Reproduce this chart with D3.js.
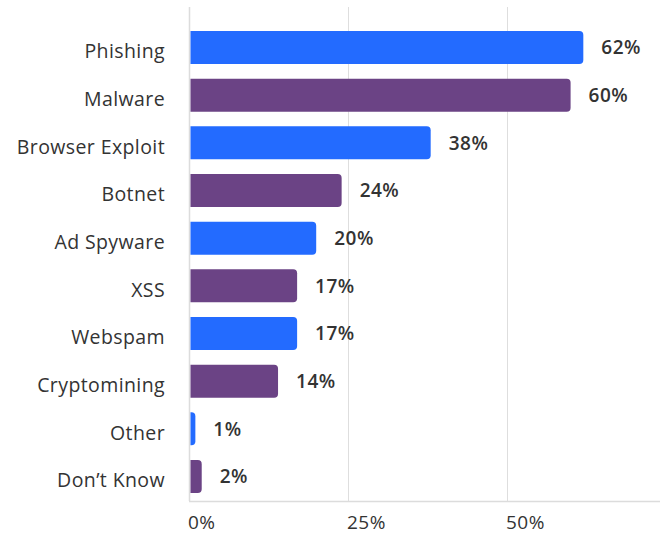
<!DOCTYPE html>
<html>
<head>
<meta charset="utf-8">
<script src="https://cdn.jsdelivr.net/npm/d3@7"></script>
<style>
  html, body { margin: 0; padding: 0; background: #ffffff; }
  svg { display: block; }
  text { font-family: "Open Sans", "Noto Sans", sans-serif; }
</style>
</head>
<body>
<svg id="chart" width="666" height="539"></svg>
<script>
// Threat categories, top to bottom
const categories = ["Phishing", "Malware", "Browser Exploit", "Botnet", "Ad Spyware",
                    "XSS", "Webspam", "Cryptomining", "Other", "Don\u2019t Know"];
// Share of respondents (%)
const values = [62, 60, 38, 24, 20, 17, 17, 14, 1, 2];
// Axis ticks (%)
const ticks = [0, 25, 50];

const colors = ["#236bff", "#6b4385"];
const font = "'Open Sans', 'Noto Sans', sans-serif";

const svg = d3.select("#chart");

const x = d3.scaleLinear().domain([0, 75]).range([189, 666]);
const y = d3.scaleBand().domain(categories).range([31, 493]).paddingInner(0.308).paddingOuter(0);

const plotTop = 7, plotBottom = 501;

// vertical gridlines
svg.append("g")
  .selectAll("line")
  .data(ticks.slice(1))
  .join("line")
  .attr("x1", d => x(d) + 0.5).attr("x2", d => x(d) + 0.5)
  .attr("y1", plotTop).attr("y2", plotBottom)
  .attr("stroke", "#dedede").attr("stroke-width", 1);

// left and bottom axis lines
svg.append("line")
  .attr("x1", x(0) + 0.5).attr("x2", x(0) + 0.5)
  .attr("y1", plotTop).attr("y2", plotBottom)
  .attr("stroke", "#dcdcdc").attr("stroke-width", 1.5);
svg.append("line")
  .attr("x1", x(0)).attr("x2", 660)
  .attr("y1", plotBottom + 0.5).attr("y2", plotBottom + 0.5)
  .attr("stroke", "#dcdcdc").attr("stroke-width", 1.5);

// bars: square at the baseline, rounded at the end
const r = 4;
const x0 = x(0) + 1.5;
function barPath(d, i) {
  const top = y(categories[i]);
  const h = y.bandwidth();
  const w = Math.max(x(d) - x0, 0.1);
  const rr = Math.min(r, w);
  return `M${x0},${top}H${x0 + w - rr}Q${x0 + w},${top} ${x0 + w},${top + rr}` +
         `V${top + h - rr}Q${x0 + w},${top + h} ${x0 + w - rr},${top + h}H${x0}Z`;
}
svg.append("g")
  .selectAll("path")
  .data(values)
  .join("path")
  .attr("d", barPath)
  .attr("fill", (d, i) => colors[i % 2]);

// value labels
svg.append("g")
  .selectAll("text")
  .data(values)
  .join("text")
  .attr("x", d => x(d) + 18)
  .attr("y", (d, i) => y(categories[i]) + y.bandwidth() / 2)
  .attr("dy", "0.36em")
  .attr("font-size", 19)
  .attr("font-weight", 600)
  .attr("letter-spacing", "0.5px")
  .attr("fill", "#333333")
  .text(d => d + "%");

// category labels
const yAxis = svg.append("g")
  .attr("transform", `translate(${x(0)},0)`)
  .call(d3.axisLeft(y).tickSize(0).tickPadding(24));
yAxis.select(".domain").remove();
yAxis.selectAll("text")
  .attr("dy", "0.55em")
  .attr("font-size", 19.5)
  .attr("letter-spacing", "0.4px")
  .attr("font-family", font)
  .attr("fill", "#333333");

// x tick labels, anchored at their tick
svg.append("g")
  .selectAll("text")
  .data(ticks)
  .join("text")
  .attr("x", d => x(d) - 1)
  .attr("y", 529)
  .attr("font-size", 19)
  .attr("letter-spacing", "0.5px")
  .attr("fill", "#333333")
  .text(d => d + "%");
</script>
</body>
</html>
